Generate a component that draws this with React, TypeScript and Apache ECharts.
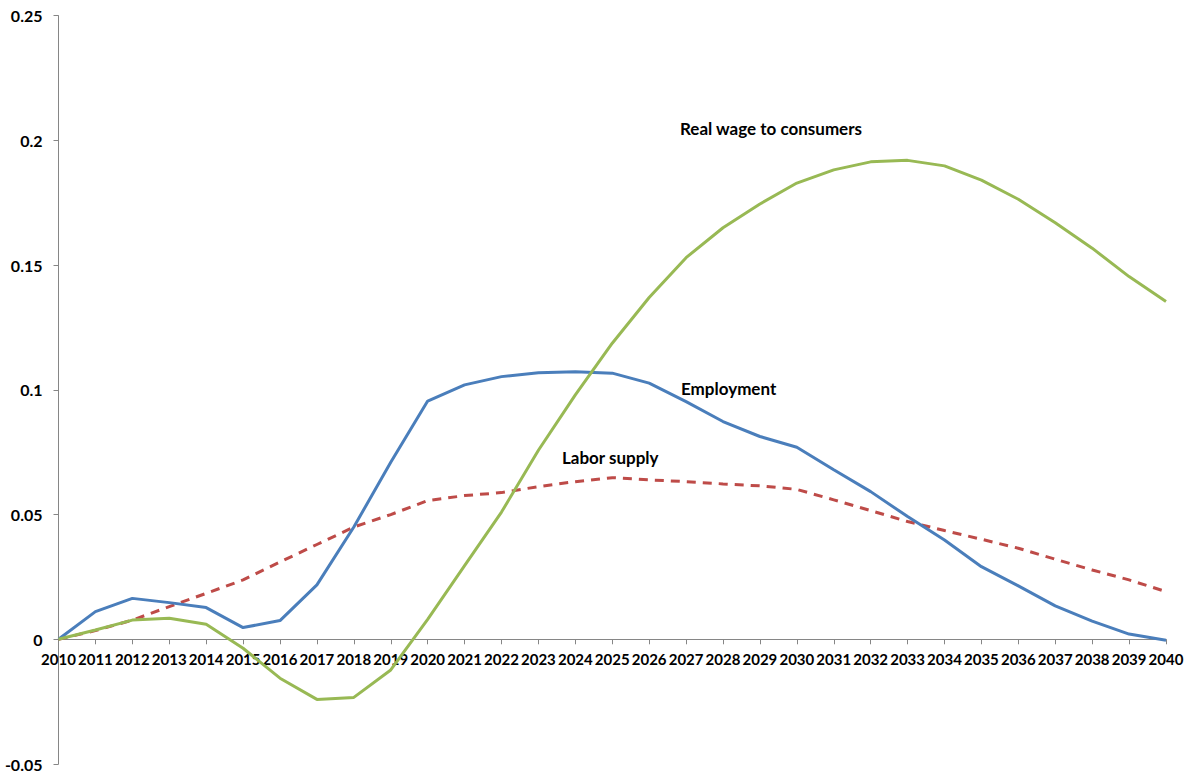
import React, { useEffect, useRef } from "react";
import * as echarts from "echarts";

const years: string[] = [
  "2010","2011","2012","2013","2014","2015","2016","2017","2018","2019",
  "2020","2021","2022","2023","2024","2025","2026","2027","2028","2029",
  "2030","2031","2032","2033","2034","2035","2036","2037","2038","2039","2040",
];

const employment: number[] = [
  0, 0.0111, 0.0164, 0.0147, 0.0127, 0.0047, 0.0075, 0.0218, 0.045, 0.071,
  0.0955, 0.102, 0.1053, 0.1069, 0.1073, 0.1067, 0.1027, 0.0953, 0.0873, 0.0813,
  0.077, 0.068, 0.0592, 0.0492, 0.0398, 0.0291, 0.0214, 0.0134, 0.0073, 0.0021, -0.0004,
];

const laborSupply: number[] = [
  0, 0.0035, 0.0077, 0.0131, 0.0184, 0.0238, 0.031, 0.038, 0.045, 0.050,
  0.0556, 0.0576, 0.0588, 0.0612, 0.0632, 0.0648, 0.0639, 0.0632, 0.0623, 0.0615,
  0.0601, 0.0559, 0.0516, 0.0472, 0.0436, 0.0401, 0.0365, 0.0321, 0.0278, 0.0238, 0.0191,
];

const realWage: number[] = [
  0, 0.0037, 0.0077, 0.0084, 0.006, -0.0036, -0.0156, -0.0241, -0.0233, -0.0123,
  0.008, 0.0295, 0.051, 0.0758, 0.098, 0.1187, 0.137, 0.153, 0.165, 0.1745,
  0.1829, 0.1882, 0.1914, 0.192, 0.1898, 0.1841, 0.1764, 0.167, 0.1568, 0.1454, 0.1354,
];

const yTicks = { min: -0.05, max: 0.25, interval: 0.05 };

const seriesNames = ["Employment", "Labor supply", "Real wage to consumers"];

const FONT = "Lato";
const AXIS_COLOR = "#868686";

export default function App() {
  const ref = useRef<HTMLDivElement>(null);

  useEffect(() => {
    if (!ref.current) return;
    const chart = echarts.init(ref.current, undefined, { renderer: "svg" });
    chart.setOption({
      animation: false,
      backgroundColor: "#ffffff",
      grid: {
        left: 58.5,
        right: 26,
        top: 15.7,
        bottom: 12,
        containLabel: false,
        outerBoundsMode: "none",
      },
      xAxis: {
        type: "category",
        data: years,
        boundaryGap: false,
        offset: 0,
        axisLine: {
          onZero: false,
          lineStyle: { color: AXIS_COLOR, width: 1 },
        },
        axisTick: { show: true, inside: false, length: 5, lineStyle: { color: AXIS_COLOR } },
        axisLabel: {
          interval: 0,
          margin: 12,
          color: "#000",
          fontFamily: FONT,
          fontWeight: "bold",
          fontSize: 15,
        },
        splitLine: { show: false },
      },
      yAxis: {
        type: "value",
        min: yTicks.min,
        max: yTicks.max,
        interval: yTicks.interval,
        axisLine: { show: true, onZero: false, lineStyle: { color: AXIS_COLOR, width: 1 } },
        axisTick: { show: true, length: 5, lineStyle: { color: AXIS_COLOR } },
        axisLabel: {
          margin: 16,
          color: "#000",
          fontFamily: FONT,
          fontWeight: "bold",
          fontSize: 16,
          formatter: (v: number) => String(Math.round(v * 100) / 100),
        },
        splitLine: { show: false },
      },
      series: [
        {
          name: seriesNames[0],
          type: "line",
          data: employment,
          symbol: "none",
          lineStyle: { color: "#4A7EBB", width: 3 },
          z: 3,
        },
        {
          name: seriesNames[1],
          type: "line",
          data: laborSupply,
          symbol: "none",
          lineStyle: { color: "#BE4B48", width: 3, type: [9, 7] },
          z: 2,
        },
        {
          name: seriesNames[2],
          type: "line",
          data: realWage,
          symbol: "none",
          lineStyle: { color: "#98B954", width: 3 },
          z: 4,
        },
      ],
      graphic: [
        {
          type: "text",
          left: 680,
          top: 120,
          style: { text: seriesNames[2], font: `bold 17px ${FONT}`, fill: "#000" },
        },
        {
          type: "text",
          left: 681,
          top: 380,
          style: { text: seriesNames[0], font: `bold 17px ${FONT}`, fill: "#000" },
        },
        {
          type: "text",
          left: 562,
          top: 449,
          style: { text: seriesNames[1], font: `bold 17px ${FONT}`, fill: "#000" },
        },
      ],
    });
    // Move the category axis up to the zero line (Excel-style "axis crosses at 0").
    const zeroY = chart.convertToPixel({ yAxisIndex: 0 }, 0) as number;
    const bottomY = chart.convertToPixel({ yAxisIndex: 0 }, yTicks.min) as number;
    chart.setOption({ xAxis: { offset: -(bottomY - zeroY) } });
    return () => chart.dispose();
  }, []);

  return (
    <div
      ref={ref}
      style={{ position: "absolute", left: 0, top: 0, width: 1192, height: 776, background: "#fff" }}
    />
  );
}
